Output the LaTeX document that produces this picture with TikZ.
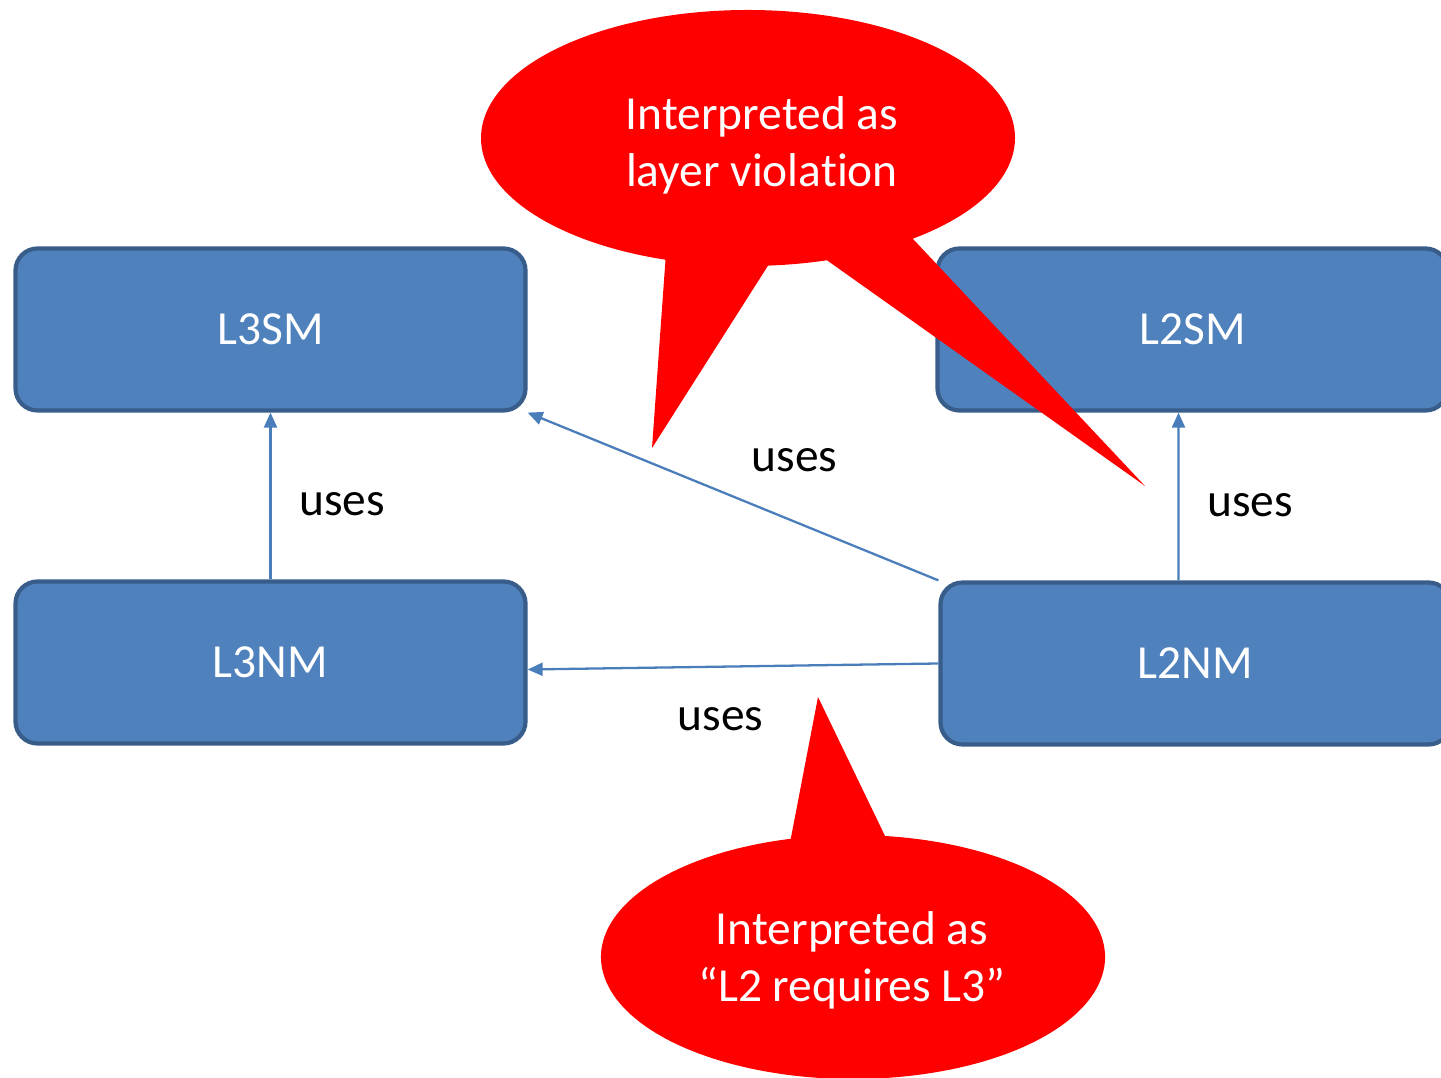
\documentclass[tikz,border=0pt]{standalone}
\usepackage{fontspec}
\setmainfont[Ligatures=NoCommon]{Carlito}
\usepackage{tikz}
\usetikzlibrary{arrows.meta, positioning, calc}
\definecolor{boxblue}{RGB}{79,129,189}
\definecolor{boxedge}{RGB}{56,93,138}
\definecolor{lineblue}{RGB}{74,126,187}
\definecolor{callred}{RGB}{255,0,0}
\tikzset{
  box/.style={rectangle, draw=boxedge, fill=boxblue, text=white,
    minimum width=5.1cm, minimum height=1.62cm,
    rounded corners=0.22cm, line width=1.2pt},
  arrow/.style={-{Triangle[length=0.15cm, width=0.13cm]}, line width=0.65pt, color=lineblue},
  callout/.style={fill=callred, draw=none},
  lbl/.style={text=black}
}
\begin{document}
\begin{tikzpicture}[every node/.style={font=\fontsize{13.5}{16.2}\selectfont}]
  \clip (0,0) rectangle (14.41,10.77);

  % Blocks
  \node[box] (L3SM) at (2.705, 7.475) {L3SM};
  \node[box] (L3NM) at (2.705, 4.145) {L3NM};
  \node[box] (L2SM) at (11.925, 7.475) {L2SM};
  \node[box] (L2NM) at (11.955, 4.135) {L2NM};

  % Connections
  \draw[arrow] (L3NM.north) -- node[lbl, pos=0.45, right=0.16cm] {uses} (L3SM.south);
  \draw[arrow] ($(L2NM.north)+(-0.17,0)$) -- node[lbl, pos=0.45, right=0.16cm] {uses} ($(L2SM.south)+(-0.14,0)$);
  \draw[arrow] (L2NM.north west) -- node[lbl, pos=0.35, above=0.37cm] {uses} (L3SM.south east);
  \draw[arrow] (L2NM.west) -- node[lbl, pos=0.53, below=0.28cm] {uses} ($(L3NM.east)+(0,-0.07)$);

  % Callouts
  \coordinate (topc) at (7.48, 9.39);
  \fill[callout] (topc) ++(-51.9:2.67cm and 1.28cm)
    arc[start angle=-51.9, end angle=252, x radius=2.67, y radius=1.28]
    -- (6.52, 6.29) -- ($(topc)+(-85.7:2.67cm and 1.28cm)$)
    arc[start angle=-85.7, end angle=-72.8, x radius=2.67, y radius=1.28]
    -- (11.45, 5.91) -- cycle;
  \node[text=white, align=center] (viol) at (7.62, 9.32) {Interpreted as\\layer violation};

  \coordinate (botc) at (8.53, 1.20);
  \fill[callout] (botc) ++(104.3:2.52cm and 1.22cm)
    arc[start angle=104.3, end angle=442.7, x radius=2.52, y radius=1.22]
    -- (8.18, 3.80) -- cycle;
  \node[text=white, align=center] (req) at (8.52, 1.17) {Interpreted as\\“L2 requires L3”};
\end{tikzpicture}
\end{document}
